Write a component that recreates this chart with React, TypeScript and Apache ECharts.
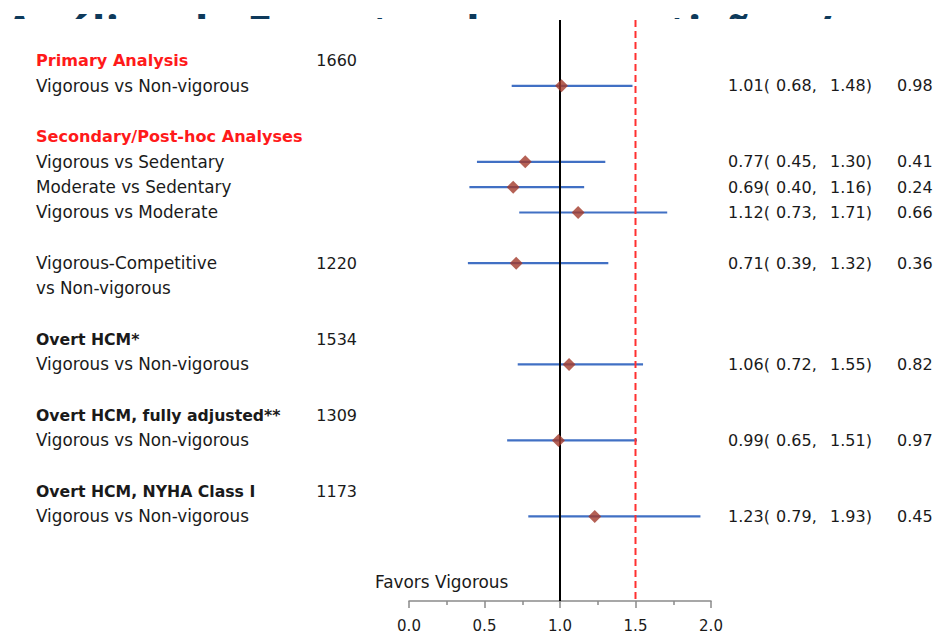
import React, { useEffect, useRef } from "react";
import * as echarts from "echarts";

// ---------- data ----------
const labelRows = [0, 1, 3, 4, 5, 6, 8, 9, 11, 12, 14, 15, 17, 18];
const labelTexts = [
  "Primary Analysis",
  "Vigorous vs Non-vigorous",
  "Secondary/Post-hoc Analyses",
  "Vigorous vs Sedentary",
  "Moderate vs Sedentary",
  "Vigorous vs Moderate",
  "Vigorous-Competitive",
  "vs Non-vigorous",
  "Overt HCM*",
  "Vigorous vs Non-vigorous",
  "Overt HCM, fully adjusted**",
  "Vigorous vs Non-vigorous",
  "Overt HCM, NYHA Class I",
  "Vigorous vs Non-vigorous",
];
const labelKinds = [
  "red", "plain", "red", "plain", "plain", "plain", "plain", "plain",
  "bold", "plain", "bold", "plain", "bold", "plain",
];

const nRows = [0, 8, 11, 14, 17];
const nValues = ["1660", "1220", "1534", "1309", "1173"];

const estRows = [1, 4, 5, 6, 8, 12, 15, 18];
const hrValues = [1.01, 0.77, 0.69, 1.12, 0.71, 1.06, 0.99, 1.23];
const lowerCI = [0.68, 0.45, 0.40, 0.73, 0.39, 0.72, 0.65, 0.79];
const upperCI = [1.48, 1.30, 1.16, 1.71, 1.32, 1.55, 1.51, 1.93];
const pValues = ["0.98", "0.41", "0.24", "0.66", "0.36", "0.82", "0.97", "0.45"];

const refLines = [1.0, 1.5];
const xTicks = [0, 0.5, 1.0, 1.5, 2.0];

const titleText = "Análise de Esportes de competições / resumo";
const footLabel = "Favors Vigorous";

// ---------- styles ----------
const FONT = "DejaVu Sans";
const TXT = "#1a1a1a";
const RED = "#ff1a1a";
const Y_MIN = -1.6;
const Y_MAX = 21.34;

export default function App() {
  const ref = useRef<HTMLDivElement>(null);

  useEffect(() => {
    if (!ref.current) return;
    const chart = echarts.init(ref.current, null, { renderer: "svg" });

    const fmt = (v: number) => v.toFixed(2);

    const option: any = {
      animation: false,
      backgroundColor: "#ffffff",
      grid: { left: 409, right: 237, top: 20, bottom: 42, containLabel: false },
      xAxis: {
        type: "value",
        min: xTicks[0],
        max: xTicks[xTicks.length - 1],
        interval: 0.5,
        axisLine: { show: true, onZero: false, lineStyle: { color: "#8a8a8a", width: 1.5 } },
        axisTick: { show: true, length: 7, lineStyle: { color: "#8a8a8a", width: 1.5 } },
        minorTick: { show: true, splitNumber: 2, length: 4, lineStyle: { color: "#8a8a8a", width: 1.5 } },
        splitLine: { show: false },
        minorSplitLine: { show: false },
        axisLabel: {
          color: TXT,
          fontFamily: FONT,
          fontSize: 15,
          margin: 17,
          formatter: (v: number) => v.toFixed(1),
        },
      },
      yAxis: {
        type: "value",
        inverse: true,
        min: Y_MIN,
        max: Y_MAX,
        show: false,
        splitLine: { show: false },
      },
      graphic: [
        {
          type: "text",
          z: 0,
          left: 4,
          top: 8,
          style: {
            text: titleText,
            fill: "#0e3a5b",
            font: "bold 45px 'Open Sans'",
          },
        },
        {
          type: "rect",
          z: 1,
          shape: { x: 0, y: 19, width: 948, height: 90 },
          style: { fill: "#ffffff" },
        },
        {
          type: "text",
          z: 5,
          left: 375,
          top: 573,
          style: {
            text: footLabel,
            fill: TXT,
            font: `16.9px '${FONT}'`,
          },
        },
      ],
      series: [
        // CI lines
        {
          type: "custom",
          z: 2,
          clip: false,
          data: estRows.map((r, i) => [lowerCI[i], upperCI[i], r]),
          encode: { x: [0, 1], y: 2 },
          renderItem: (params: any, api: any) => {
            const s = api.coord([api.value(0), api.value(2)]);
            const e = api.coord([api.value(1), api.value(2)]);
            return {
              type: "line",
              shape: { x1: s[0], y1: s[1], x2: e[0], y2: e[1] },
              style: { stroke: "#4170c4", lineWidth: 2.2 },
            };
          },
        },
        // reference lines
        {
          type: "custom",
          z: 3,
          clip: false,
          data: refLines.map((v) => [v]),
          encode: { x: 0 },
          renderItem: (params: any, api: any) => {
            const v = api.value(0);
            const a = api.coord([v, Y_MIN]);
            const b = api.coord([v, Y_MAX]);
            const isRef = params.dataIndex === 0;
            return {
              type: "line",
              shape: { x1: a[0], y1: a[1], x2: b[0], y2: b[1] },
              style: isRef
                ? { stroke: "#000000", lineWidth: 2 }
                : { stroke: "#ff3030", lineWidth: 2, lineDash: [7, 4] },
            };
          },
        },
        // point estimates
        {
          type: "scatter",
          z: 4,
          symbol: "diamond",
          symbolSize: [13, 13],
          itemStyle: { color: "#a33a2b" },
          data: estRows.map((r, i) => [hrValues[i], r]),
        },
        // left labels
        {
          type: "custom",
          z: 5,
          clip: false,
          data: labelRows.map((r, i) => [0, r, i]),
          encode: { x: 0, y: 1 },
          renderItem: (params: any, api: any) => {
            const i = params.dataIndex;
            const y = api.coord([0, api.value(1)])[1];
            const kind = labelKinds[i];
            const font =
              kind === "plain"
                ? `normal 16.8px '${FONT}'`
                : kind === "red"
                ? `bold 16.1px '${FONT}'`
                : `bold 15.7px '${FONT}'`;
            return {
              type: "text",
              x: 36,
              y,
              style: {
                text: labelTexts[i],
                fill: kind === "red" ? RED : TXT,
                font,
                align: "left",
                verticalAlign: "middle",
              },
            };
          },
        },
        // N column
        {
          type: "custom",
          z: 5,
          clip: false,
          data: nRows.map((r) => [0, r]),
          encode: { x: 0, y: 1 },
          renderItem: (params: any, api: any) => {
            const y = api.coord([0, api.value(1)])[1];
            return {
              type: "text",
              x: 357,
              y,
              style: {
                text: nValues[params.dataIndex],
                fill: TXT,
                font: `16px '${FONT}'`,
                align: "right",
                verticalAlign: "middle",
              },
            };
          },
        },
        // right columns
        {
          type: "custom",
          z: 5,
          clip: false,
          data: estRows.map((r, i) => [hrValues[i], r]),
          encode: { x: 0, y: 1 },
          renderItem: (params: any, api: any) => {
            const i = params.dataIndex;
            const y = api.coord([0, api.value(1)])[1];
            const base = { fill: TXT, font: `16px '${FONT}'`, verticalAlign: "middle", align: "left" };
            return {
              type: "group",
              children: [
                { type: "text", x: 728, y, style: { ...base, text: fmt(hrValues[i]) + "(" } },
                { type: "text", x: 776, y, style: { ...base, text: fmt(lowerCI[i]) + "," } },
                { type: "text", x: 830, y, style: { ...base, text: fmt(upperCI[i]) + ")" } },
                { type: "text", x: 897, y, style: { ...base, text: pValues[i] } },
              ],
            };
          },
        },
      ],
    };

    chart.setOption(option);
    return () => chart.dispose();
  }, []);

  return (
    <div
      ref={ref}
      style={{ position: "fixed", left: 0, top: 0, width: 948, height: 643 }}
    />
  );
}
